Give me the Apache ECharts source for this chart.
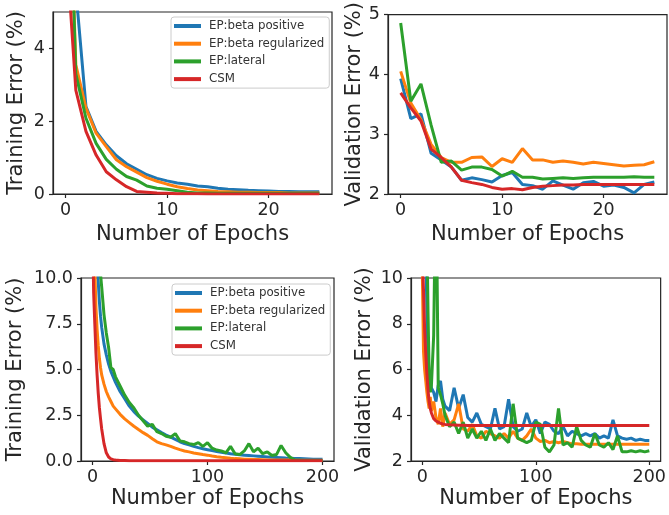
<!DOCTYPE html>
<html>
<head>
<meta charset="utf-8">
<script src="https://cdn.jsdelivr.net/npm/echarts@6/dist/echarts.min.js"></script>
<style>
  html, body { margin: 0; padding: 0; background: #fff; }
  #chart { width: 669px; height: 515px; }
</style>
</head>
<body>
<div id="chart"></div>
<script>
// series names (legend order)
const names = ['EP:beta positive', 'EP:beta regularized', 'EP:lateral', 'CSM']
const colors = ['#1f77b4', '#ff7f0e', '#2ca02c', '#d62728']

// short run: epochs 0..25
const epochsShort = [0, 1, 2, 3, 4, 5, 6, 7, 8, 9, 10, 11, 12, 13, 14, 15, 16, 17, 18, 19, 20, 21, 22, 23, 24, 25]

const trainShortBeta = [15, 5.6, 2.4, 1.72, 1.35, 1.05, 0.83, 0.68, 0.53, 0.43, 0.36, 0.3, 0.27, 0.22, 0.2, 0.16, 0.13, 0.12, 0.1, 0.09, 0.08, 0.07, 0.07, 0.06, 0.06, 0.06]
const trainShortReg = [12, 3.55, 2.36, 1.67, 1.3, 0.94, 0.75, 0.6, 0.45, 0.35, 0.27, 0.2, 0.15, 0.11, 0.09, 0.07, 0.06, 0.05, 0.05, 0.04, 0.04, 0.04, 0.03, 0.03, 0.03, 0.03]
const trainShortLat = [12.3, 3.3, 2.08, 1.39, 0.95, 0.68, 0.48, 0.38, 0.22, 0.16, 0.13, 0.09, 0.05, 0.03, 0.03, 0.02, 0.02, 0.02, 0.02, 0.02, 0.02, 0.02, 0.02, 0.02, 0.02, 0.02]
const trainShortCsm = [7.1, 2.85, 1.72, 1.07, 0.61, 0.39, 0.2, 0.07, 0.05, 0.03, 0.02, 0.01, 0.01, 0.01, 0, 0, 0, 0, 0, 0, 0, 0, 0, 0, 0, 0]

const validShortBeta = [3.93, 3.26, 3.34, 2.68, 2.57, 2.45, 2.23, 2.27, 2.24, 2.2, 2.31, 2.36, 2.16, 2.14, 2.08, 2.22, 2.15, 2.08, 2.19, 2.21, 2.13, 2.15, 2.11, 2.02, 2.16, 2.2]
const validShortReg = [4.05, 3.52, 3.24, 2.83, 2.61, 2.53, 2.53, 2.61, 2.62, 2.46, 2.59, 2.53, 2.76, 2.57, 2.57, 2.53, 2.55, 2.53, 2.5, 2.53, 2.51, 2.49, 2.47, 2.48, 2.49, 2.54]
const validShortLat = [4.86, 3.55, 3.84, 3.15, 2.53, 2.55, 2.4, 2.45, 2.45, 2.41, 2.3, 2.38, 2.28, 2.28, 2.25, 2.26, 2.27, 2.26, 2.27, 2.28, 2.28, 2.28, 2.28, 2.29, 2.28, 2.28]
const validShortCsm = [3.69, 3.44, 3.22, 2.75, 2.61, 2.45, 2.23, 2.19, 2.16, 2.11, 2.08, 2.09, 2.07, 2.11, 2.13, 2.14, 2.15, 2.15, 2.16, 2.16, 2.16, 2.16, 2.16, 2.16, 2.16, 2.16]

// long run: epochs 0..200
const epochsLong = [0, 1, 2, 3, 4, 5, 6, 7, 8, 10, 12, 14, 16, 18, 20,
  24, 28, 32, 36, 40, 44, 48, 52, 56, 60, 64, 68, 72, 76, 80, 84, 88, 92, 96, 100,
  104, 108, 112, 116, 120, 124, 128, 132, 136, 140, 144, 148, 152, 156, 160,
  164, 168, 172, 176, 180, 184, 188, 192, 196, 200]

const trainLongBeta = [25, 19, 15, 12.5, 10.8, 9.8, 8.7, 7.9, 7.3, 6.4, 5.8, 5.3, 4.9, 4.6, 4.3,
  3.8, 3.4, 3.0, 2.7, 2.45, 2.25, 2.05, 1.85, 1.7, 1.55, 1.42, 1.3, 1.18, 1.05, 0.95,
  0.88, 0.8, 0.73, 0.67, 0.62, 0.57, 0.52, 0.48, 0.44, 0.4, 0.37, 0.34, 0.32, 0.3, 0.28,
  0.26, 0.24, 0.22, 0.2, 0.19, 0.18, 0.16, 0.15, 0.14, 0.13, 0.12, 0.11, 0.1, 0.1, 0.09]
const trainLongReg = [16, 12.5, 10.5, 8.4, 7.2, 6.3, 5.6, 5.1, 4.7, 4.2, 3.8, 3.5, 3.25, 3.0, 2.85,
  2.55, 2.3, 2.1, 1.9, 1.72, 1.55, 1.4, 1.22, 1.05, 0.95, 0.88, 0.8, 0.7, 0.62, 0.55,
  0.5, 0.44, 0.4, 0.35, 0.32, 0.27, 0.23, 0.2, 0.18, 0.15, 0.13, 0.12, 0.1, 0.09, 0.08,
  0.08, 0.07, 0.06, 0.06, 0.05, 0.05, 0.05, 0.05, 0.04, 0.04, 0.04, 0.04, 0.04, 0.04, 0.04]
const trainLongLat = [30, 24, 20, 16.5, 14, 12.5, 11.2, 10.2, 9.5, 8.0, 7.0, 6.2, 5.1, 5.0, 4.6,
  4.1, 3.6, 3.2, 2.9, 2.5, 2.2, 1.9, 2.0, 1.6, 1.5, 1.35, 1.3, 1.5, 1.1, 1.05,
  0.95, 0.9, 1.0, 0.8, 1.0, 0.7, 0.6, 0.55, 0.45, 0.8, 0.4, 0.35, 0.55, 0.95, 0.5,
  0.7, 0.4, 0.5, 0.3, 0.35, 0.85, 0.45, 0.2, 0.05, 0.04, 0.03, 0.03, 0.03, 0.03, 0.03]
const trainLongCsm = [13, 9.2, 7.5, 5.9, 4.7, 3.7, 2.9, 2.3, 1.75, 0.95, 0.45, 0.22, 0.12, 0.07, 0.05,
  0.03, 0.03, 0.02, 0.02, 0.02, 0.02, 0.02, 0.02, 0.02, 0.02, 0.01, 0.01, 0.01, 0.01, 0.01,
  0.01, 0.01, 0.01, 0.01, 0.01, 0.01, 0.01, 0.01, 0.01, 0.01, 0.01, 0.01, 0.01, 0.01, 0.01,
  0.01, 0.01, 0.01, 0.01, 0.01, 0.01, 0.01, 0.01, 0.01, 0.01, 0.01, 0.01, 0.01, 0.01, 0.01]

const validLongBeta = [25, 20, 15, 11.5, 8.5, 6.5, 5.8, 5.4, 5.2, 5.0, 4.6, 5.3, 5.5, 4.7, 4.4,
  4.2, 5.2, 4.3, 4.9, 3.9, 3.7, 4.1, 3.6, 3.5, 3.4, 4.3, 3.4, 3.5, 4.7, 3.5,
  3.3, 3.4, 4.1, 3.5, 3.8, 3.2, 3.7, 3.6, 3.3, 3.2, 3.5, 3.1, 3.3, 3.2, 3.1,
  3.2, 3.1, 3.2, 3.0, 3.1, 3.0, 3.8, 3.1, 3.0, 2.95, 3.0, 2.9, 2.95, 2.9, 2.9]
const validLongReg = [10.2, 6.8, 6.0, 5.5, 5.0, 4.6, 4.3, 4.8, 4.2, 4.6, 3.9, 3.6, 4.3, 3.5, 4.1,
  3.6, 3.8, 4.5, 3.4, 3.3, 3.6, 3.1, 3.0, 3.3, 3.2, 3.1, 3.0, 3.2, 3.0, 3.3,
  3.0, 2.9, 3.1, 3.4, 3.0, 2.85, 2.9, 2.8, 2.85, 2.8, 2.85, 2.8, 2.75, 2.75, 2.73,
  2.73, 2.73, 2.73, 2.73, 2.73, 2.73, 2.73, 2.73, 2.73, 2.73, 2.73, 2.73, 2.73, 2.73, 2.73]
const validLongLat = [30, 25, 20, 15, 12, 8.5, 5.8, 5.0, 5.3, 7.5, 15, 5.2, 4.9, 4.5, 4.0,
  3.5, 3.7, 3.2, 3.7, 3.0, 3.4, 3.0, 3.3, 2.9, 3.4, 2.9, 3.2, 3.0, 2.8, 4.5,
  3.0, 2.9, 2.8, 2.9, 3.7, 3.6, 2.6, 2.4, 2.7, 4.3, 2.7, 2.8, 2.6, 3.5, 2.9,
  2.7, 2.6, 3.2, 2.7, 2.6, 2.8, 2.5, 3.1, 2.4, 2.4, 2.45, 2.4, 2.45, 2.4, 2.45]
const validLongCsm = [11, 9.5, 7.8, 6.7, 5.8, 5.1, 4.6, 4.3, 4.1, 3.85, 3.75, 3.7, 3.65, 3.62, 3.6,
  3.58, 3.57, 3.56, 3.56, 3.55, 3.55, 3.55, 3.55, 3.55, 3.55, 3.55, 3.55, 3.55, 3.55, 3.55,
  3.55, 3.55, 3.55, 3.55, 3.55, 3.55, 3.55, 3.55, 3.55, 3.55, 3.55, 3.55, 3.55, 3.55, 3.55,
  3.55, 3.55, 3.55, 3.55, 3.55, 3.55, 3.55, 3.55, 3.55, 3.55, 3.55, 3.55, 3.55, 3.55, 3.55]

const FONT = 'DejaVu Sans'
const INK = '#262626'

const chart = echarts.init(document.getElementById('chart'))

function pairs(xs, ys) {
  return xs.map((x, i) => [x, ys[i]])
}

function xAxisOf(gridIndex, min, max, ticks, nameGap) {
  return {
    type: 'value',
    gridIndex: gridIndex,
    min: min,
    max: max,
    name: 'Number of Epochs',
    nameLocation: 'middle',
    nameGap: nameGap,
    nameTextStyle: { fontFamily: FONT, fontSize: 21, color: INK },
    axisLine: { show: true, onZero: false, lineStyle: { color: INK, width: 1.2 } },
    axisTick: { show: true, length: 4, customValues: ticks, lineStyle: { color: INK, width: 1.2 } },
    axisLabel: { customValues: ticks, margin: 7, fontFamily: FONT, fontSize: 17.5, color: INK },
    splitLine: { show: false }
  }
}

function yAxisOf(gridIndex, name, min, max, ticks, nameGap, digits) {
  return {
    type: 'value',
    gridIndex: gridIndex,
    min: min,
    max: max,
    name: name,
    nameLocation: 'middle',
    nameGap: nameGap,
    nameTextStyle: { fontFamily: FONT, fontSize: 21, color: INK },
    axisLine: { show: true, onZero: false, lineStyle: { color: INK, width: 1.2 } },
    axisTick: { show: true, length: 4, customValues: ticks, lineStyle: { color: INK, width: 1.2 } },
    axisLabel: {
      customValues: ticks,
      margin: 8,
      fontFamily: FONT,
      fontSize: 17.5,
      color: INK,
      formatter: v => v.toFixed(digits)
    },
    splitLine: { show: false }
  }
}

function legendOf(left, top) {
  return {
    orient: 'vertical',
    left: left,
    top: top,
    data: names,
    icon: 'rect',
    itemWidth: 27,
    itemHeight: 4,
    itemGap: 3.7,
    padding: [2, 5, 2, 3],
    backgroundColor: '#fff',
    borderColor: '#cccccc',
    borderWidth: 1,
    borderRadius: 3,
    selectedMode: false,
    textStyle: { fontFamily: FONT, fontSize: 11.8, color: '#333', lineHeight: 14, padding: [0, 0, 0, 3] }
  }
}

const panels = [
  [epochsShort, [trainShortBeta, trainShortReg, trainShortLat, trainShortCsm]],
  [epochsShort, [validShortBeta, validShortReg, validShortLat, validShortCsm]],
  [epochsLong, [trainLongBeta, trainLongReg, trainLongLat, trainLongCsm]],
  [epochsLong, [validLongBeta, validLongReg, validLongLat, validLongCsm]]
]

const series = []
panels.forEach(([xs, lines], p) => {
  lines.forEach((ys, k) => {
    series.push({
      name: names[k],
      type: 'line',
      xAxisIndex: p,
      yAxisIndex: p,
      data: pairs(xs, ys),
      showSymbol: false,
      clip: true,
      color: colors[k],
      lineStyle: { width: 3, color: colors[k] },
      animation: false
    })
  })
})

const gridStyle = { show: true, borderColor: INK, borderWidth: 1.2, backgroundColor: 'transparent' }

chart.setOption({
  backgroundColor: '#fff',
  grid: [
    Object.assign({ left: 53, top: 12, width: 279, height: 182 }, gridStyle),
    Object.assign({ left: 388, top: 12, width: 279, height: 182 }, gridStyle),
    Object.assign({ left: 81, top: 278, width: 253, height: 183 }, gridStyle),
    Object.assign({ left: 411, top: 278, width: 253, height: 183 }, gridStyle)
  ],
  xAxis: [
    xAxisOf(0, -1.25, 26.25, [0, 10, 20], 30),
    xAxisOf(1, -1.25, 26.25, [0, 10, 20], 30),
    xAxisOf(2, -10, 210, [0, 100, 200], 27),
    xAxisOf(3, -10, 210, [0, 100, 200], 27)
  ],
  yAxis: [
    yAxisOf(0, 'Training Error (%)', 0, 5, [0, 2, 4], 26, 0),
    yAxisOf(1, 'Validation Error (%)', 2, 5, [2, 3, 4, 5], 23, 0),
    yAxisOf(2, 'Training Error (%)', 0, 10, [0, 2.5, 5, 7.5, 10], 55, 1),
    yAxisOf(3, 'Validation Error (%)', 2, 10, [2, 4, 6, 8, 10], 36, 0)
  ],
  legend: [legendOf(171, 17), legendOf(172, 284)],
  series: series
})
</script>
</body>
</html>
